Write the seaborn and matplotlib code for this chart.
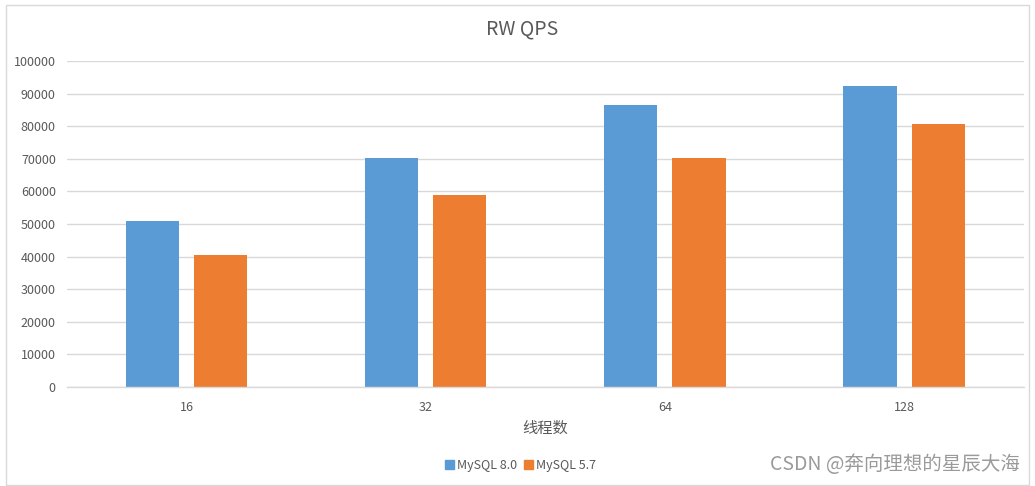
import matplotlib
matplotlib.use("Agg")
import matplotlib.pyplot as plt
import matplotlib.patches as mpatches
import pandas as pd
import seaborn as sns

# ---------------------------------------------------------------------------
# Data
# ---------------------------------------------------------------------------
threads = ["16", "32", "64", "128"]
qps_80 = [51000, 70200, 86500, 92300]
qps_57 = [40500, 58900, 70200, 80700]
series = ["MySQL 8.0", "MySQL 5.7"]
colors = ["#5B9BD5", "#ED7D31"]

df = pd.DataFrame({
    "threads": threads * 2,
    "qps": qps_80 + qps_57,
    "version": [series[0]] * len(threads) + [series[1]] * len(threads),
})

sns.set_theme(style="white")
plt.rcParams["font.family"] = ["Noto Sans CJK SC", "DejaVu Sans"]

fig = plt.figure(figsize=(10.35, 4.86), dpi=100)
ax = fig.add_axes([0.0647, 0.2037, 0.9243, 0.6708])

sns.barplot(data=df, x="threads", y="qps", hue="version", order=threads,
            hue_order=series, palette=colors, width=0.57, gap=0.22,
            saturation=1, linewidth=0, ax=ax, legend=False)

grid_c = "#d9d9d9"
text_c = "#595959"

ax.set_ylim(0, 100000)
ax.set_yticks(range(0, 100001, 10000))
ax.yaxis.grid(True, color=grid_c, linewidth=1)
ax.set_axisbelow(True)
ax.set_xlim(-0.5, len(threads) - 0.5)
for s in ("top", "right", "left"):
    ax.spines[s].set_visible(False)
ax.spines["bottom"].set_color(grid_c)
ax.spines["bottom"].set_linewidth(1)

ax.tick_params(axis="y", length=0, labelsize=9, labelcolor=text_c, pad=8)
ax.tick_params(axis="x", which="major", length=0, labelsize=9,
               labelcolor=text_c, pad=10)
ax.set_xticks([i - 0.5 for i in range(len(threads) + 1)], minor=True)
ax.tick_params(axis="x", which="minor", length=5, color=grid_c, width=1)

ax.set_xlabel("线程数", fontsize=11, color=text_c, labelpad=4)
ax.set_ylabel("")
fig.text(0.504, 0.94, "RW QPS", ha="center", va="center",
         fontsize=14, color=text_c)

handles = [mpatches.Patch(color=c, label=s) for c, s in zip(colors, series)]
fig.legend(handles=handles, loc="center", bbox_to_anchor=(0.503, 0.043),
           ncol=2, frameon=False, fontsize=9, labelcolor=text_c,
           handlelength=0.7, handleheight=0.7, handletextpad=0.3,
           columnspacing=0.5)

fig.text(0.985, 0.045, "CSDN @奔向理想的星辰大海", ha="right", va="center",
         fontsize=14, color="#9a9a9a")

# outer chart border
fig.patches.append(mpatches.Rectangle((6 / 1035, 1 / 486), 1023 / 1035, 480 / 486,
                                      transform=fig.transFigure, fill=False,
                                      edgecolor=grid_c, linewidth=1))

fig.savefig("out.png", dpi=100)
